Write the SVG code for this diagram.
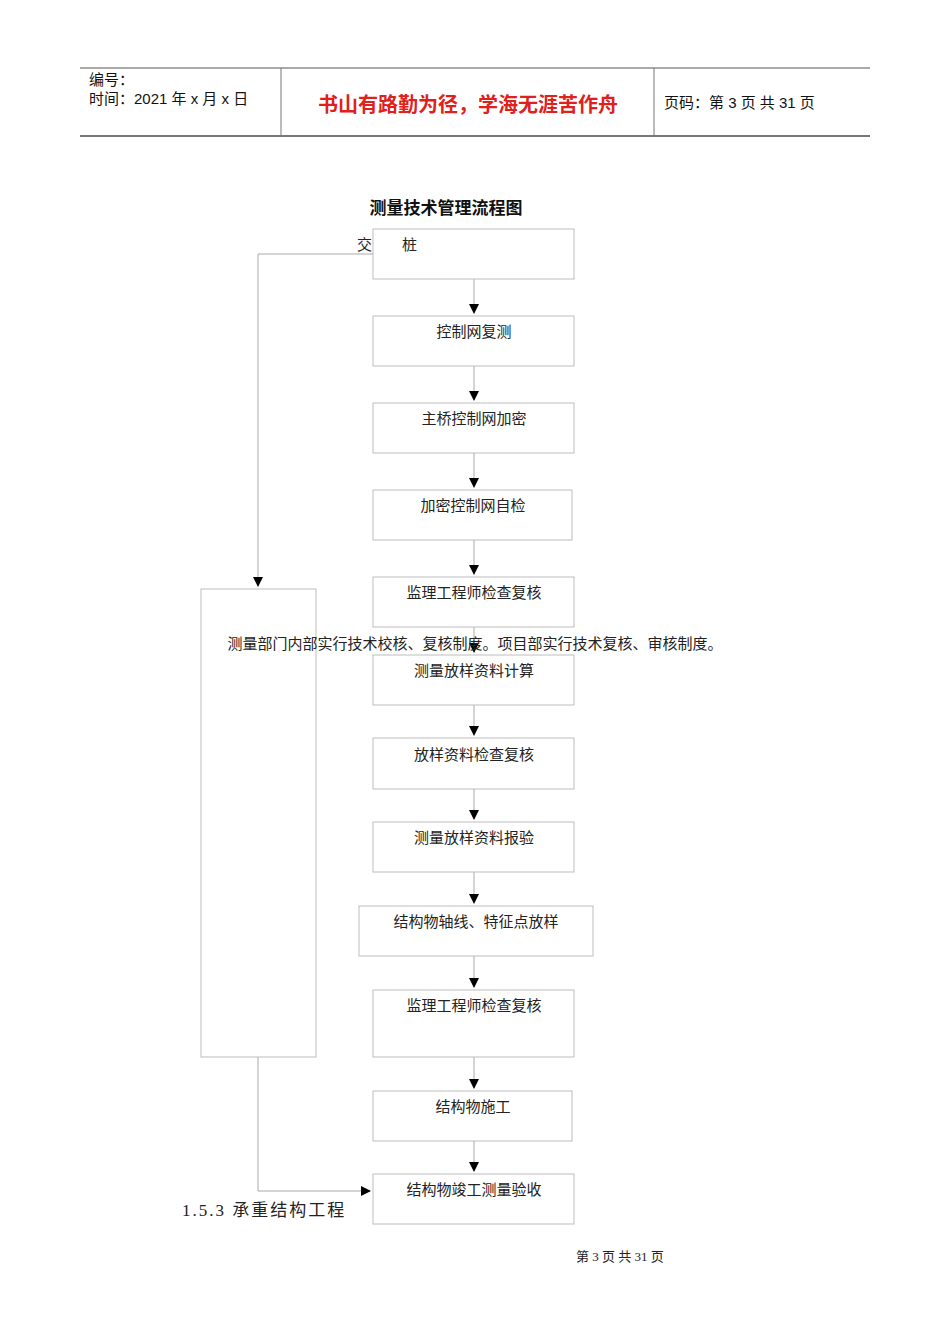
<svg xmlns="http://www.w3.org/2000/svg" width="950" height="1344" viewBox="0 0 950 1344">
<style>
.b{fill:#fff;stroke:#bdbdbd;stroke-width:1}
.t{font-family:"Liberation Serif","Noto Sans CJK SC",serif;font-size:15px;fill:#222;text-anchor:middle}
.c{stroke:#aaa;stroke-width:1;fill:none}
.h{font-family:"Liberation Sans","Noto Sans CJK SC",sans-serif;font-size:15px;fill:#111}
</style>
<defs><marker id="a" markerWidth="10" markerHeight="10" refX="9" refY="5" orient="auto" markerUnits="userSpaceOnUse"><path d="M0,0 L10,5 L0,10 Z" fill="#000"/></marker></defs>
<rect width="950" height="1344" fill="#fff"/>
<g id="header">
<line x1="80" y1="68" x2="870" y2="68" stroke="#555"/>
<line x1="80" y1="136" x2="870" y2="136" stroke="#777" stroke-width="2"/>
<line x1="281" y1="68" x2="281" y2="136" stroke="#777"/>
<line x1="654" y1="68" x2="654" y2="136" stroke="#777"/>
<text class="h" x="89" y="85">编号：</text>
<text class="h" x="89" y="104">时间：2021 年 x 月 x 日</text>
<text x="468" y="112" font-family="Noto Sans CJK SC,sans-serif" font-size="20" font-weight="bold" fill="#e0201a" text-anchor="middle">书山有路勤为径，学海无涯苦作舟</text>
<text class="h" x="664" y="108">页码：第 3 页  共 31 页</text>
</g>
<text x="446" y="214" font-family="Noto Sans CJK SC,sans-serif" font-size="17" font-weight="bold" text-anchor="middle" fill="#111">测量技术管理流程图</text>
<g id="connectors">
<line class="c" x1="474" y1="279" x2="474" y2="313" marker-end="url(#a)"/>
<line class="c" x1="474" y1="366" x2="474" y2="400" marker-end="url(#a)"/>
<line class="c" x1="474" y1="453" x2="474" y2="487" marker-end="url(#a)"/>
<line class="c" x1="474" y1="540" x2="474" y2="574" marker-end="url(#a)"/>
<line class="c" x1="474" y1="627" x2="474" y2="652" marker-end="url(#a)"/>
<line class="c" x1="474" y1="705" x2="474" y2="735" marker-end="url(#a)"/>
<line class="c" x1="474" y1="789" x2="474" y2="819" marker-end="url(#a)"/>
<line class="c" x1="474" y1="872" x2="474" y2="903" marker-end="url(#a)"/>
<line class="c" x1="474" y1="956" x2="474" y2="987" marker-end="url(#a)"/>
<line class="c" x1="474" y1="1057" x2="474" y2="1088" marker-end="url(#a)"/>
<line class="c" x1="474" y1="1141" x2="474" y2="1171" marker-end="url(#a)"/>
<polyline class="c" points="373,254 258,254 258,586" marker-end="url(#a)"/>
<polyline class="c" points="258,1057 258,1191 370,1191" marker-end="url(#a)"/>
</g>
<g id="n1"><rect class="b" x="373" y="229" width="201" height="50"/><text class="t" x="387" y="250" text-anchor="start">交　　桩</text></g>
<g id="n2"><rect class="b" x="373" y="316" width="201" height="50"/><text class="t" x="474" y="337">控制网复测</text></g>
<g id="n3"><rect class="b" x="373" y="403" width="201" height="50"/><text class="t" x="474" y="424">主桥控制网加密</text></g>
<g id="n4"><rect class="b" x="373" y="490" width="199" height="50"/><text class="t" x="473" y="511">加密控制网自检</text></g>
<g id="n5"><rect class="b" x="373" y="577" width="201" height="50"/><text class="t" x="474" y="598">监理工程师检查复核</text></g>
<g id="left"><rect class="b" x="201" y="589" width="115" height="468"/></g>
<g id="n6"><rect class="b" x="373" y="655" width="201" height="50"/><text class="t" x="474" y="676">测量放样资料计算</text></g>
<text class="t" x="475" y="649">测量部门内部实行技术校核、复核制度。项目部实行技术复核、审核制度。</text>
<g id="n7"><rect class="b" x="373" y="738" width="201" height="51"/><text class="t" x="474" y="760">放样资料检查复核</text></g>
<g id="n8"><rect class="b" x="373" y="822" width="201" height="50"/><text class="t" x="474" y="843">测量放样资料报验</text></g>
<g id="n9"><rect class="b" x="359" y="906" width="234" height="50"/><text class="t" x="476" y="927">结构物轴线、特征点放样</text></g>
<g id="n10"><rect class="b" x="373" y="990" width="201" height="67"/><text class="t" x="474" y="1011">监理工程师检查复核</text></g>
<g id="n11"><rect class="b" x="373" y="1091" width="199" height="50"/><text class="t" x="473" y="1112">结构物施工</text></g>
<g id="n12"><rect class="b" x="373" y="1174" width="201" height="50"/><text class="t" x="474" y="1195">结构物竣工测量验收</text></g>
<text x="182" y="1216" font-family="Liberation Serif,Noto Sans CJK SC,serif" font-size="17" fill="#222" letter-spacing="2">1.5.3 承重结构工程</text>
<text x="620" y="1261" font-family="Liberation Serif,Noto Sans CJK SC,serif" font-size="13" fill="#222" text-anchor="middle">第  3  页  共  31  页</text>
</svg>
